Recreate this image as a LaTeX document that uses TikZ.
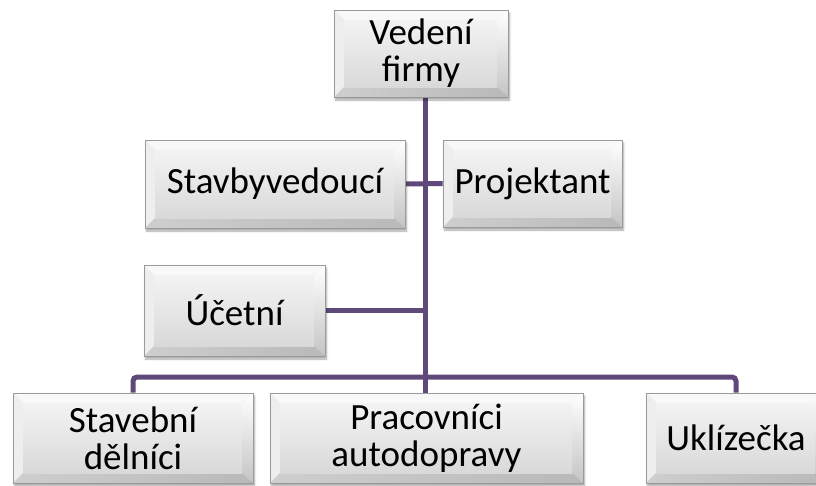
\documentclass[tikz,border=0pt]{standalone}
\usepackage{fontspec}
\setmainfont{Carlito}
\usetikzlibrary{shadows.blur,backgrounds}
\definecolor{conncol}{HTML}{5F497A}
\definecolor{bvtop}{HTML}{F8F8F8}
\definecolor{bvleft}{HTML}{EEEEEE}
\definecolor{bvright}{HTML}{C4C4C4}
\definecolor{bvbottom}{HTML}{B9B9B9}
\definecolor{facetop}{HTML}{F3F3F3}
\definecolor{facebot}{HTML}{D9D9D9}
\definecolor{edgecol}{HTML}{9A9A9A}
\tikzset{
  bevelbox/.style={
    rectangle, draw=edgecol, line width=0.8pt, inner sep=0pt,
    align=center, font=\fontsize{37}{37}\selectfont,
    fill=facebot,
    blur shadow={shadow xshift=1.5pt, shadow yshift=-3pt, shadow blur steps=6, shadow opacity=35},
    path picture={
      \path (path picture bounding box.north west) coordinate (bvnw)
            (path picture bounding box.south east) coordinate (bvse);
      \path (bvnw) ++(10pt,-10pt) coordinate (bvinw);
      \path (bvse) ++(-11pt,10pt) coordinate (bvise);
      \path (bvnw -| bvse) coordinate (bvne) (bvse -| bvnw) coordinate (bvsw);
      \path (bvinw -| bvise) coordinate (bvine) (bvise -| bvinw) coordinate (bvisw);
      \fill[bvtop] (bvnw) -- (bvne) -- (bvine) -- (bvinw) -- cycle;
      \fill[bvleft] (bvnw) -- (bvinw) -- (bvisw) -- (bvsw) -- cycle;
      \shade[top color=white, bottom color=bvright] (bvne) -- (bvse) -- (bvise) -- (bvine) -- cycle;
      \shade[left color=bvbottom!70!white, right color=bvbottom] (bvsw) -- (bvisw) -- (bvise) -- (bvse) -- cycle;
      \shade[top color=facetop, bottom color=facebot] (bvinw) rectangle (bvise);
    }
  },
  conn/.style={draw=conncol, line width=5pt}
}
\begin{document}
\begin{tikzpicture}[x=1pt,y=-1pt]
\useasboundingbox (0,0) rectangle (816,485);
\clip (0,0) rectangle (816,485);
\node[bevelbox, minimum width=174pt, minimum height=87pt] (ved) at (421,53.5)
  {\fontsize{37}{34}\selectfont Vedení\\firmy};
\node[bevelbox, minimum width=260pt, minimum height=88pt] (stv) at (275,184) {Stavbyvedoucí};
\node[bevelbox, minimum width=179pt, minimum height=87pt] (proj) at (532.5,183.5) {Projektant};
\node[bevelbox, minimum width=181pt, minimum height=91pt] (uc) at (234.5,310.5) {Účetní};
\node[bevelbox, minimum width=240pt, minimum height=90pt] (sd) at (133,438)
  {\fontsize{37}{39}\selectfont Stavební\\dělníci};
\node[bevelbox, minimum width=313pt, minimum height=90pt] (prac) at (426.5,438)
  {\fontsize{37}{36}\selectfont Pracovníci\\autodopravy};
\node[bevelbox, minimum width=180pt, minimum height=90pt] (ukl) at (736,438) {Uklízečka};
\coordinate (t) at (425,0);
\coordinate (busy) at (425,377);
\begin{scope}[on background layer]
  \draw[conn] (ved.south -| t) -- (prac.north -| t);
  \draw[conn] (stv.east) -- (proj.west);
  \draw[conn] (uc.east) -- (uc.east -| t);
  \draw[conn, rounded corners=4pt] (sd.north) |- (busy) -| (ukl.north);
\end{scope}
\end{tikzpicture}
\end{document}
